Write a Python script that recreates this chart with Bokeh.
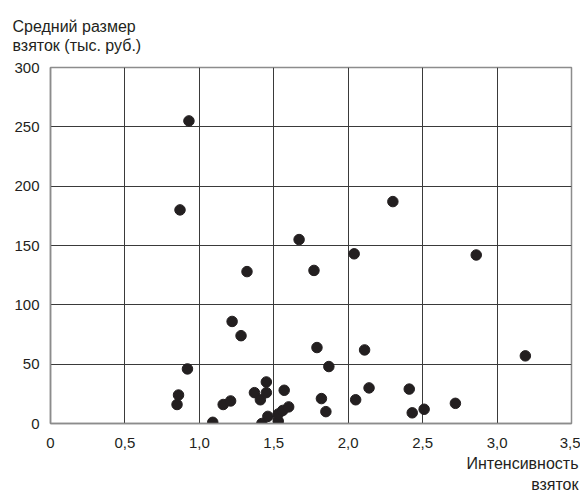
from bokeh.plotting import figure
from bokeh.models import Title, FixedTicker
from bokeh.embed import file_html
from bokeh.resources import INLINE

# ---- data ----
intensity = [0.93, 0.87, 1.67, 2.30, 2.04, 2.86, 1.77, 1.32, 1.22, 1.28,
             1.79, 2.11, 3.19, 1.87, 0.92, 0.86, 0.85, 1.09, 1.16, 1.21,
             1.45, 1.37, 1.41, 1.45, 1.57, 1.42, 1.46, 1.53, 1.53, 1.56,
             1.60, 1.82, 1.85, 2.05, 2.14, 2.41, 2.43, 2.51, 2.72]
avg_size = [255, 180, 155, 187, 143, 142, 129, 128, 86, 74,
            64, 62, 57, 48, 46, 24, 16, 1, 16, 19,
            35, 26, 20, 26, 28, 0, 6, 2, 8, 11,
            14, 21, 10, 20, 30, 29, 9, 12, 17]

x_ticks = [0, 0.5, 1.0, 1.5, 2.0, 2.5, 3.0, 3.5]
x_tick_labels = ["0", "0,5", "1,0", "1,5", "2,0", "2,5", "3,0", "3,5"]
y_ticks = [0, 50, 100, 150, 200, 250, 300]

y_title = ["Средний размер", "взяток (тыс. руб.)"]
x_title = ["Интенсивность", "взяток"]

DOT = "#231f20"
GRID = "#3a3a3a"
BORDER = "#8c8c8c"

FL, FT, FW, FH = 50, 67, 521, 357   # frame left/top/width/height in canvas px
W, H = 580, 492

p = figure(width=W, height=H, x_range=(0, 3.5), y_range=(0, 300),
           output_backend="svg", toolbar_location=None,
           min_border_left=FL, min_border_top=FT,
           min_border_right=W - FL - FW, min_border_bottom=H - FT - FH)
p.background_fill_color = "white"
p.border_fill_color = "white"
p.outline_line_color = BORDER
p.outline_line_width = 1.5

for ax in (p.xaxis[0], p.yaxis[0]):
    ax.axis_line_color = BORDER
    ax.axis_line_width = 1.5
    ax.major_tick_line_color = None
    ax.minor_tick_line_color = None
    ax.major_tick_out = 0
    ax.major_tick_in = 0
    ax.major_label_text_font = "Liberation Sans"
    ax.major_label_text_font_size = "15px"
    ax.major_label_text_color = DOT

p.xaxis.ticker = FixedTicker(ticks=x_ticks)
p.yaxis.ticker = FixedTicker(ticks=y_ticks)
p.xaxis.major_label_overrides = {t: s for t, s in zip(x_ticks, x_tick_labels)}
p.xaxis.major_label_standoff = 14
p.yaxis.major_label_standoff = 11

p.xgrid.ticker = FixedTicker(ticks=x_ticks)
p.ygrid.ticker = FixedTicker(ticks=y_ticks)
for g in (p.xgrid[0], p.ygrid[0]):
    g.grid_line_color = GRID
    g.grid_line_width = 1

p.scatter(intensity, avg_size, size=10.5, fill_color=DOT, line_color=DOT)

font = "Liberation Sans"
fs = "16px"

def title(text, align, offset, standoff=0, line_height=1.0):
    return Title(text=text, align=align, offset=offset, standoff=standoff,
                 text_font=font, text_font_size=fs, text_font_style="normal",
                 text_color=DOT, text_line_height=line_height)

# y-axis caption: two lines above the frame, left of it
p.add_layout(title("\n".join(y_title), "left", -38, standoff=26,
                   line_height=1.15), "above")
# x-axis caption: two lines below the axis, right-aligned
p.add_layout(title(x_title[0], "right", -7, standoff=4), "below")
p.add_layout(title(x_title[1], "right", -7), "below")

open("out.html", "w").write(file_html(p, INLINE))
